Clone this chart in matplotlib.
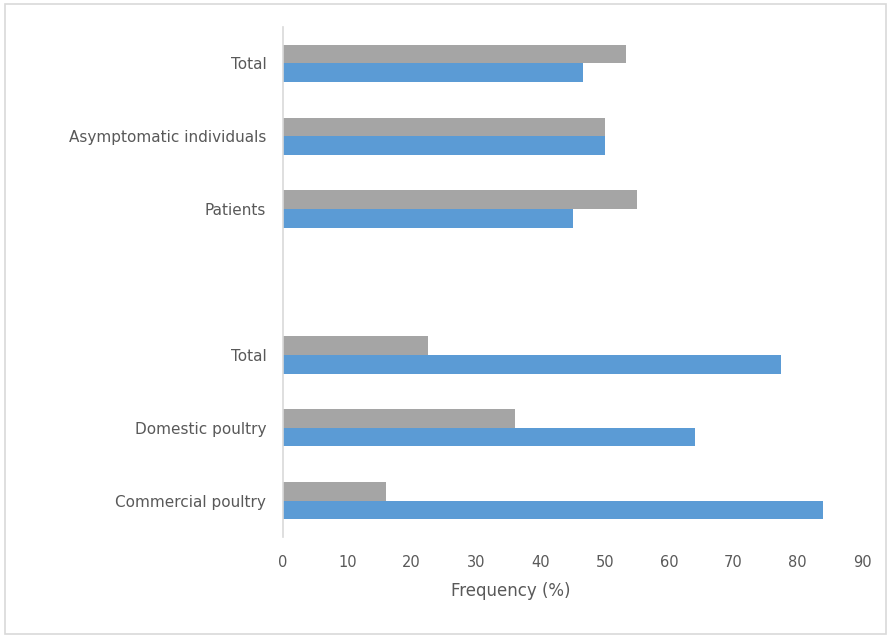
import numpy as np
import matplotlib
matplotlib.use("Agg")
import matplotlib.pyplot as plt
from matplotlib.patches import Rectangle

# categories from bottom to top; the empty slot separates the two groups
categories = ["Commercial poultry", "Domestic poultry", "Total", "",
              "Patients", "Asymptomatic individuals", "Total"]
blue_pct = [84, 64, 77.4, np.nan, 45, 50, 46.7]
gray_pct = [16, 36, 22.6, np.nan, 55, 50, 53.3]
xticks = [0, 10, 20, 30, 40, 50, 60, 70, 80, 90]

BLUE = "#5B9BD5"
GRAY = "#A5A5A5"
TXT = "#595959"
LINE = "#D9D9D9"

plt.rcParams["font.family"] = ["DejaVu Sans"]

fig = plt.figure(figsize=(8.91, 6.37), dpi=100)
fig.patches.append(Rectangle((5 / 891, 3 / 637), 881 / 891, 630 / 637,
                             transform=fig.transFigure, fill=False,
                             edgecolor=LINE, linewidth=1.2))

ax = fig.add_axes([283 / 891, 1 - 537 / 637, (862 - 283) / 891, (537 - 27) / 637])

y = np.arange(len(categories))
h = 0.257
ax.barh(y - h / 2, blue_pct, height=h, color=BLUE)
ax.barh(y + h / 2, gray_pct, height=h, color=GRAY)

ax.set_xlim(0, 90)
ax.set_ylim(-0.5, len(categories) - 0.5)
ax.set_xticks(xticks)
ax.set_xticklabels([str(t) for t in xticks])
ax.set_yticks(y)
ax.set_yticklabels(categories)
ax.tick_params(axis="x", length=0, labelsize=10.5, labelcolor=TXT, pad=13)
ax.tick_params(axis="y", length=0, labelsize=11, labelcolor=TXT, pad=12)
ax.set_xlabel("Frequency (%)", fontsize=12, color=TXT)
ax.xaxis.set_label_coords(0.394, -0.088)

for side in ["top", "right", "bottom"]:
    ax.spines[side].set_visible(False)
ax.spines["left"].set_color(LINE)
ax.spines["left"].set_linewidth(1.2)

fig.savefig("out.png", dpi=100)
